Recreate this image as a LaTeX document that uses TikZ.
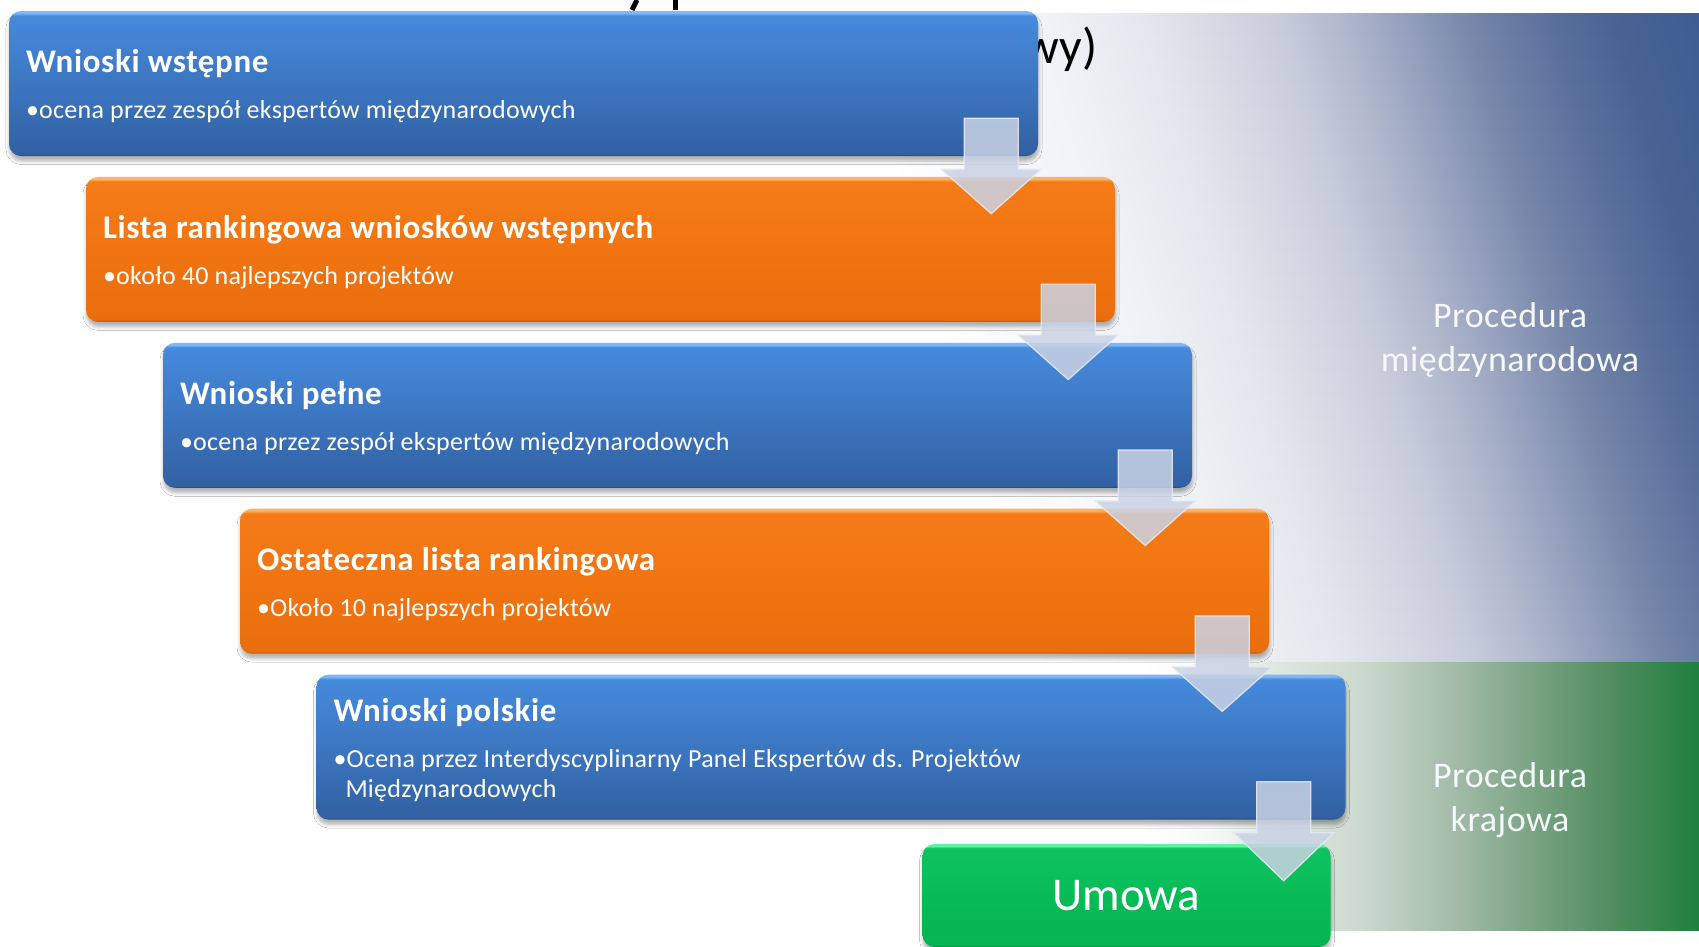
\documentclass[tikz,border=0pt]{standalone}
\usepackage{fontspec}
\setmainfont{Carlito}
\usetikzlibrary{positioning,calc,shadows.blur}

\definecolor{bxbE}{RGB}{36,70,122}
\definecolor{bxbA}{RGB}{50,97,162}
\definecolor{bxbB}{RGB}{60,118,193}
\definecolor{bxbC}{RGB}{70,138,220}
\definecolor{bxbD}{RGB}{125,185,250}
\definecolor{bxoE}{RGB}{180,82,10}
\definecolor{bxoA}{RGB}{234,110,14}
\definecolor{bxoB}{RGB}{241,116,17}
\definecolor{bxoC}{RGB}{244,124,24}
\definecolor{bxoD}{RGB}{255,178,100}
\definecolor{bxgE}{RGB}{4,130,58}
\definecolor{bxgA}{RGB}{6,180,82}
\definecolor{bxgB}{RGB}{8,187,86}
\definecolor{bxgC}{RGB}{14,196,96}
\definecolor{bxgD}{RGB}{90,245,160}
\definecolor{pnA}{RGB}{247,248,250}
\definecolor{pnB}{RGB}{240,242,246}
\definecolor{pnC}{RGB}{228,231,237}
\definecolor{pnD}{RGB}{200,205,220}
\definecolor{pnE}{RGB}{175,183,204}
\definecolor{pnF}{RGB}{145,157,187}
\definecolor{pnG}{RGB}{115,132,168}
\definecolor{pnH}{RGB}{92,113,156}
\definecolor{pnI}{RGB}{72,100,148}
\definecolor{pnJ}{RGB}{54,89,143}
\definecolor{gpA}{RGB}{246,248,246}
\definecolor{gpB}{RGB}{225,232,225}
\definecolor{gpC}{RGB}{205,218,207}
\definecolor{gpD}{RGB}{160,185,165}
\definecolor{gpE}{RGB}{80,140,95}
\definecolor{gpF}{RGB}{30,128,62}
\definecolor{arrowfill}{RGB}{202,210,228}
\definecolor{arrowedge}{RGB}{228,233,243}
\definecolor{labelwhite}{RGB}{246,248,251}

\pgfdeclareverticalshading{blueshade}{100bp}{color(0bp)=(bxbE); color(25bp)=(bxbE); color(25.8bp)=(bxbA); color(50bp)=(bxbB); color(73.4bp)=(bxbC); color(74.3bp)=(bxbD); color(100bp)=(bxbD)}
\pgfdeclareverticalshading{orangeshade}{100bp}{color(0bp)=(bxoE); color(25bp)=(bxoE); color(25.8bp)=(bxoA); color(50bp)=(bxoB); color(73.4bp)=(bxoC); color(74.3bp)=(bxoD); color(100bp)=(bxoD)}
\pgfdeclareverticalshading{greenshade}{100bp}{color(0bp)=(bxgE); color(25bp)=(bxgE); color(26bp)=(bxgA); color(50bp)=(bxgB); color(73bp)=(bxgC); color(74bp)=(bxgD); color(100bp)=(bxgD)}
\pgfdeclarehorizontalshading{intlshade}{100bp}{color(0bp)=(white); color(37.5bp)=(white); color(41.7bp)=(pnA); color(45.8bp)=(pnB); color(50bp)=(pnC); color(55.5bp)=(pnD); color(58.3bp)=(pnE); color(61.1bp)=(pnF); color(63.9bp)=(pnG); color(66.7bp)=(pnH); color(69.5bp)=(pnI); color(75bp)=(pnJ); color(100bp)=(pnJ)}
\pgfdeclarehorizontalshading{krajshade}{100bp}{color(0bp)=(white); color(44bp)=(white); color(48bp)=(gpA); color(51bp)=(gpB); color(56bp)=(gpC); color(61.7bp)=(gpD); color(70.2bp)=(gpE); color(75bp)=(gpF); color(100bp)=(gpF)}

\tikzstyle{flowbox} = [rounded corners=12pt, minimum width=1029pt, minimum height=145pt,
  text width=995pt, inner xsep=17pt, inner ysep=0pt, text height=28.5pt, align=left, text=white,
  blur shadow={shadow xshift=0.5pt, shadow yshift=-5pt, shadow blur radius=3.5pt, shadow opacity=30}]
\tikzstyle{bluebox} = [flowbox, shading=blueshade]
\tikzstyle{orangebox} = [flowbox, shading=orangeshade]
\tikzstyle{greenbox} = [rounded corners=12pt, minimum width=408pt, minimum height=103pt, inner sep=0pt,
  text=white, font=\fontsize{47}{56}\selectfont, shading=greenshade,
  blur shadow={shadow xshift=0.5pt, shadow yshift=-5pt, shadow blur radius=3.5pt, shadow opacity=30}]
\tikzstyle{flowarrow} = [fill=arrowfill, fill opacity=0.85, draw=arrowedge, draw opacity=0.9, line width=1.2pt]
\tikzstyle{sidelabel} = [text=labelwhite, text width=320pt, align=center, inner sep=0pt,
  font=\fontsize{36}{44}\selectfont\addfontfeatures{LetterSpace=1.5}]

\newcommand{\titlesize}{\fontsize{33}{38}\selectfont\bfseries\addfontfeatures{LetterSpace=2}}
\newcommand{\bulletsize}{\fontsize{26}{29.5}\selectfont\addfontfeatures{LetterSpace=1}}
\newcommand{\boxtext}[2]{\spaceskip=0pt\xspaceskip=0pt
  {\titlesize #1\par}\vspace{16.5pt}{\bulletsize\hangindent=12pt\hangafter=1 •#2\par}}
\newcommand{\flowstep}[3]{%
  \path[flowarrow] let \p1=(#3.east), \p2=(#1.south), \p3=(#2.north) in
    (\x1-74pt,\y2+38pt) -- (\x1-20pt,\y2+38pt) -- (\x1-20pt,\y2-13pt) -- (\x1+3pt,\y2-13pt)
    -- (\x1-47pt,\y3-37pt) -- (\x1-97pt,\y2-13pt) -- (\x1-74pt,\y2-13pt) -- cycle;}

\begin{document}
\begin{tikzpicture}[x=1pt, y=-1pt]
  \useasboundingbox (0,0) rectangle (1699,946);
  \fill[white] (0,0) rectangle (1699,946);

  \begin{scope}
    \clip (800,13) rectangle (1699,661);
    \foreach \sy in {13,25,...,649}
      \shade[shading=intlshade] ({640+0.3*(\sy-331)},\sy) rectangle ({1840+0.3*(\sy-331)},\sy+13);
  \end{scope}
  \shade[shading=krajshade] (800,662) rectangle (1699,930);

  \node[anchor=base east, inner sep=0pt, font=\fontsize{50}{56}\selectfont] (subtitle) at (1098,63) {wy)};
  \draw[line width=5pt] (637,0) -- (632,10);
  \draw[line width=5pt] (675,0) -- (675,10);

  \node[bluebox] (wstepne) at (523.5,83.5)
    {\boxtext{Wnioski wstępne}{ocena przez zespół ekspertów międzynarodowych}};
  \node[orangebox, below=20.5pt of wstepne, xshift=77pt] (ranking)
    {\boxtext{Lista rankingowa wniosków wstępnych}{około 40 najlepszych projektów}};
  \node[bluebox, below=20.5pt of ranking, xshift=77pt] (pelne)
    {\boxtext{Wnioski pełne}{ocena przez zespół ekspertów międzynarodowych}};
  \node[orangebox, below=20.5pt of pelne, xshift=77pt] (ostateczna)
    {\boxtext{Ostateczna lista rankingowa}{Około 10 najlepszych projektów}};
  \node[bluebox, below=20.5pt of ostateczna, xshift=76.5pt] (polskie)
    {\boxtext{Wnioski polskie}{Ocena przez Interdyscyplinarny Panel Ekspertów ds. Projektów\newline Międzynarodowych}};
  \node[greenbox, below=24pt of polskie, xshift=295.5pt] (umowa) {Umowa};

  \flowstep{wstepne}{ranking}{wstepne}
  \flowstep{ranking}{pelne}{ranking}
  \flowstep{pelne}{ostateczna}{pelne}
  \flowstep{ostateczna}{polskie}{ostateczna}
  \flowstep{polskie}{umowa}{umowa}

  \node[sidelabel, anchor=base] (intl) at (1510,327) {Procedura\\międzynarodowa};
  \node[sidelabel, anchor=base] (kraj) at (1510,787) {Procedura\\krajowa};
\end{tikzpicture}
\end{document}
